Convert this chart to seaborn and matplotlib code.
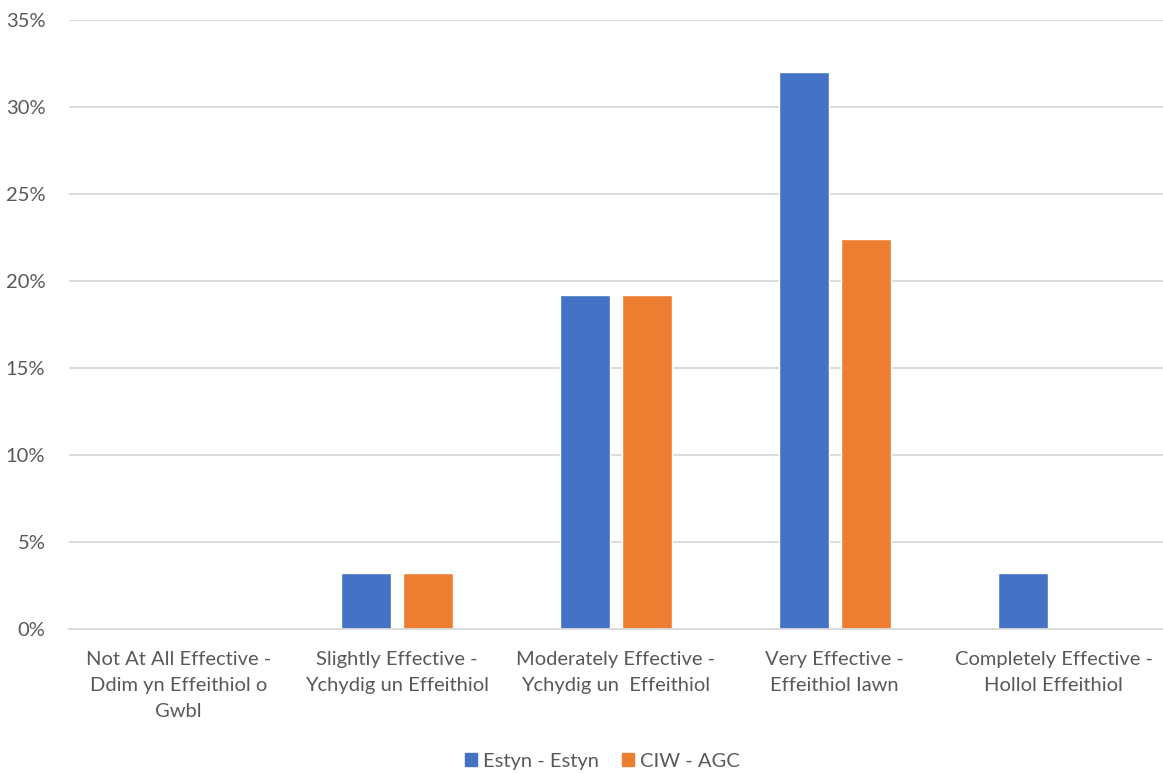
import matplotlib
matplotlib.use("Agg")
import matplotlib.pyplot as plt
import pandas as pd
import seaborn as sns
from matplotlib.ticker import PercentFormatter

categories = [
    "Not At All Effective -\nDdim yn Effeithiol o\nGwbl",
    "Slightly Effective -\nYchydig un Effeithiol",
    "Moderately Effective -\nYchydig un  Effeithiol",
    "Very Effective -\nEffeithiol Iawn",
    "Completely Effective -\nHollol Effeithiol",
]
series_names = ["Estyn - Estyn", "CIW - AGC"]
estyn = [0.0, 3.2, 19.2, 32.0, 3.2]
ciw = [0.0, 3.2, 19.2, 22.4, 0.0]
colors = ["#4472C4", "#ED7D31"]

df = pd.DataFrame({
    "Category": categories * 2,
    "Series": [series_names[0]] * 5 + [series_names[1]] * 5,
    "Value": estyn + ciw,
})

sns.set_style("white")
plt.rcParams["font.family"] = ["Lato", "DejaVu Sans"]
text_color = "#595959"

fig = plt.figure(figsize=(11.63, 7.74), dpi=100)
ax = fig.add_axes([0.0593, 0.1873, 0.9407, 0.974 - 0.1873])

sns.barplot(data=df, x="Category", y="Value", hue="Series", order=categories,
            hue_order=series_names, palette=colors, width=0.566, gap=0.19,
            saturation=1, ax=ax, legend=False)

ax.set_ylim(0, 35)
ax.set_xlim(-0.5, 4.5)
ax.set_yticks(range(0, 36, 5))
ax.yaxis.set_major_formatter(PercentFormatter(decimals=0))
ax.grid(axis="y", color="#d9d9d9", linewidth=1.3)
ax.set_axisbelow(True)
for s in ["top", "right", "left"]:
    ax.spines[s].set_visible(False)
ax.spines["bottom"].set_color("#d9d9d9")
ax.spines["bottom"].set_linewidth(1.3)
ax.tick_params(axis="both", length=0, labelsize=14.5, colors=text_color)
ax.tick_params(axis="x", pad=16)
ax.tick_params(axis="y", pad=17)
for lbl in ax.get_xticklabels():
    lbl.set_linespacing(1.65)
ax.set_xlabel("")
ax.set_ylabel("")

handles = [plt.Rectangle((0, 0), 1, 1, color=c) for c in colors]
fig.legend(handles, series_names, loc="lower center", ncol=2, frameon=False,
           bbox_to_anchor=(0.518, -0.018), fontsize=14.5, labelcolor=text_color,
           handlelength=0.6, handleheight=0.6, handletextpad=0.3, columnspacing=1.1)

fig.savefig("out.png", dpi=100)
